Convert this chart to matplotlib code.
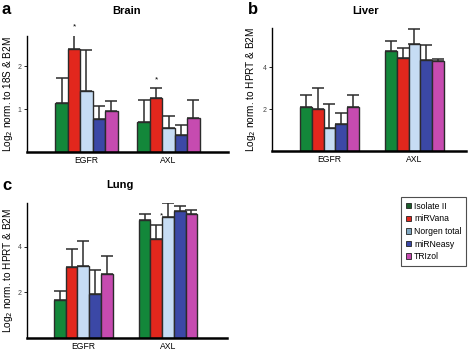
import numpy as np
import matplotlib
matplotlib.use("Agg")
import matplotlib.pyplot as plt
from matplotlib.patches import Patch

plt.rcParams['font.family'] = ['Liberation Sans', 'DejaVu Sans']

methods = ["Isolate II", "miRVana", "Norgen total", "miRNeasy", "TRIzol"]
genes = ["EGFR", "AXL"]
colors = ["#13873a", "#e2271d", "#c6dcf4", "#3b48a6", "#c64bb0"]
legend_colors = ["#1d5e2c", "#e2271d", "#7fa6bf", "#3b48a6", "#c64bb0"]

# mean values per gene (EGFR, AXL) for each method, and the top of the error bar
brain_mean = [[1.15, 0.69], [2.40, 1.26], [1.43, 0.55], [0.77, 0.40], [0.95, 0.78]]
brain_top = [[1.72, 1.20], [2.72, 1.49], [2.38, 0.84], [1.07, 0.64], [1.18, 1.20]]
liver_mean = [[2.08, 4.76], [1.98, 4.44], [1.08, 5.11], [1.30, 4.32], [2.10, 4.27]]
liver_top = [[2.65, 5.24], [2.98, 4.90], [2.22, 5.81], [1.81, 5.06], [2.65, 4.38]]
lung_mean = [[1.66, 5.16], [3.12, 4.32], [3.14, 5.31], [1.93, 5.55], [2.79, 5.43]]
lung_top = [[2.07, 5.42], [3.91, 4.95], [4.25, 5.93], [2.98, 5.80], [3.60, 5.61]]

W, H = 472, 351
fig = plt.figure(figsize=(W / 100, H / 100), dpi=100)


def px_axes(x0, x1, ytop, ybot):
    return fig.add_axes([x0 / W, 1 - ybot / H, (x1 - x0) / W, (ybot - ytop) / H])


def panel(ax, mean, top, width, xlim, ylim, yticks, ylabel, labelx, stars=()):
    x = np.arange(1, len(genes) + 1)
    for i in range(len(methods)):
        pos = x + (i - 2) * width
        m = np.array(mean[i])
        t = np.array(top[i])
        ax.bar(pos, m, width, color=colors[i], edgecolor="#2b2b2b", linewidth=1.0, zorder=2)
        ax.errorbar(pos, m, yerr=[np.zeros_like(m), t - m], fmt="none", ecolor="#2b2b2b",
                    elinewidth=1.1, capsize=4.5, capthick=1.1, zorder=1)
    for gi, mi, off in stars:
        ax.text(x[gi] + (mi - 2) * width + off, top[mi][gi] + 0.04 * ylim, "*",
                ha="center", va="bottom", fontsize=6)
    ax.set_xlim(*xlim)
    ax.set_ylim(0, ylim)
    ax.set_xticks(x)
    ax.set_xticklabels(genes, fontsize=6.2)
    ax.tick_params(axis="x", length=0, pad=3)
    ax.set_yticks(yticks)
    ax.set_yticklabels([str(v) for v in yticks], fontsize=5, color="#444444")
    ax.tick_params(axis="y", length=2, width=0.6, pad=2)
    for s in ["top", "right"]:
        ax.spines[s].set_visible(False)
    ax.spines["left"].set_linewidth(1.0)
    ax.spines["bottom"].set_linewidth(1.8)
    ax.set_ylabel(ylabel, fontsize=7.2)
    ax.yaxis.set_label_coords(labelx, 0.5)


ax_a = px_axes(27, 228, 36, 152)
panel(ax_a, brain_mean, brain_top, 0.152, (0.275, 2.725), 2.7, [1, 2],
      "Log$_2$ norm. to 18S & B2M", -0.058, stars=[(0, 1, 0), (1, 1, 0)])
ax_b = px_axes(272, 466, 28, 151)
panel(ax_b, liver_mean, liver_top, 0.138, (0.324, 2.606), 5.86, [2, 4],
      "Log$_2$ norm. to HPRT & B2M", -0.072)
ax_c = px_axes(27, 227, 203, 338)
panel(ax_c, lung_mean, lung_top, 0.138, (0.335, 2.697), 5.92, [2, 4],
      "Log$_2$ norm. to HPRT & B2M", -0.058, stars=[(1, 1, 0.06)])

fig.text(127 / W, 1 - 11 / H, "Brain", ha="center", va="center", fontsize=8, fontweight="bold")
fig.text(366 / W, 1 - 11 / H, "Liver", ha="center", va="center", fontsize=8, fontweight="bold")
fig.text(120 / W, 1 - 185 / H, "Lung", ha="center", va="center", fontsize=8, fontweight="bold")
fig.text(2 / W, 1 - 10 / H, "a", ha="left", va="center", fontsize=12, fontweight="bold")
fig.text(248 / W, 1 - 10 / H, "b", ha="left", va="center", fontsize=12, fontweight="bold")
fig.text(2 / W, 1 - 185 / H, "c", ha="left", va="center", fontsize=12, fontweight="bold")

handles = [Patch(facecolor=c, edgecolor="#222222", linewidth=0.6) for c in legend_colors]
leg = fig.legend(handles, methods, loc="upper left", bbox_to_anchor=(401 / W, 1 - 197 / H),
                 fontsize=6.2, frameon=True, fancybox=False, edgecolor="#222222",
                 handlelength=0.6, handleheight=0.6, handletextpad=0.35,
                 labelspacing=0.42, borderpad=0.55, borderaxespad=0)
leg.get_frame().set_linewidth(0.8)

fig.savefig("out.png", dpi=100)
